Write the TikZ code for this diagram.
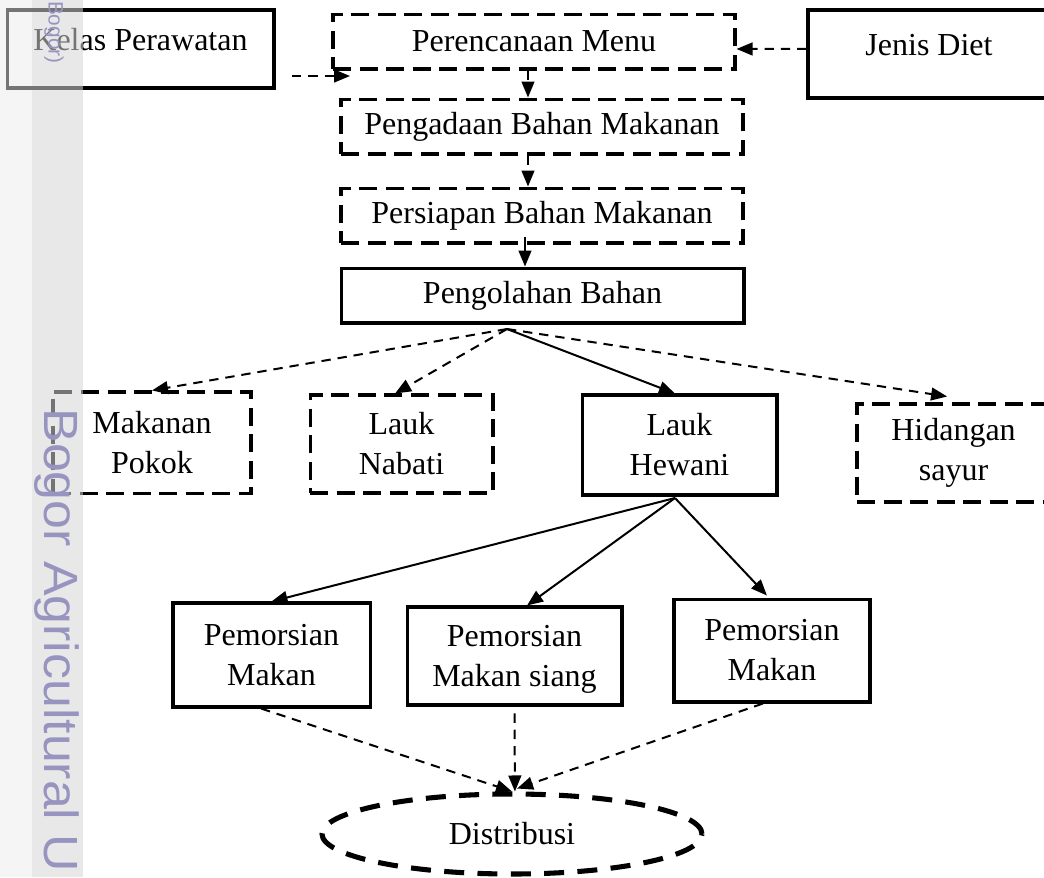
\documentclass[tikz,border=0pt]{standalone}
\usepackage{fontspec}
\setmainfont{Liberation Serif}
\newfontfamily\wmfont{Liberation Sans}
\usetikzlibrary{arrows.meta,shapes.geometric,calc}
\definecolor{bandA}{RGB}{235,235,235}
\definecolor{bandB}{RGB}{213,213,213}
\definecolor{wmcol}{RGB}{152,148,192}
\begin{document}
\begin{tikzpicture}[x=0.375pt,y=-0.375pt,
  txt/.style={font=\fontsize{12}{15}\selectfont, align=center},
  sbox/.style={txt, draw, line width=1.15pt, inner sep=0pt},
  dbox/.style={txt, draw, line width=1.15pt, dash pattern=on 6.75pt off 3.2pt, inner sep=0pt},
  dell/.style={txt, draw, ellipse, line width=1.9pt, dash pattern=on 7.5pt off 5pt, inner sep=0pt},
  darrow/.style={line width=0.75pt, dash pattern=on 3.5pt off 2.6pt, -{Triangle[length=6pt,width=4.8pt]}},
  sarrow/.style={line width=0.75pt, -{Triangle[length=6pt,width=4.8pt]}},
  wm/.style={text=wmcol, inner sep=0pt, rotate=-90}
]
\useasboundingbox (0,0) rectangle (1044,877);

% boxes
\node[sbox, minimum width=100.1pt, minimum height=29.25pt, text depth=7.1pt] (kelas) at (140.5,49) {Kelas Perawatan};
\node[dbox, minimum width=150.75pt, minimum height=20.6pt] (plan) at (534,41.5) {Perencanaan Menu};
\node[sbox, minimum width=90.75pt, minimum height=33pt, text depth=6.75pt] (jenis) at (929,54) {Jenis Diet};
\node[dbox, minimum width=150.75pt, minimum height=20.6pt] (adaan) at (542,126.5) {Pengadaan Bahan Makanan};
\node[dbox, minimum width=150.75pt, minimum height=20.6pt] (siap) at (542,215.5) {Persiapan Bahan Makanan};
\node[sbox, minimum width=151.1pt, minimum height=20.6pt] (olah) at (542.5,295.5) {Pengolahan Bahan};

\node[dbox, minimum width=74.25pt, minimum height=37.9pt] (pokok) at (152,442.5) {Makanan\\Pokok};
\node[dbox, minimum width=68.6pt, minimum height=36.75pt] (nabati) at (401.5,444) {Lauk\\Nabati};
\node[sbox, minimum width=73.1pt, minimum height=37.5pt] (hewani) at (679.5,445) {Lauk\\Hewani};
\node[dbox, minimum width=72.4pt, minimum height=36.75pt] (sayur) at (953.5,453) {Hidangan\\sayur};

\node[sbox, minimum width=73.9pt, minimum height=39pt] (pem1) at (271.5,655) {Pemorsian\\Makan};
\node[sbox, minimum width=80.6pt, minimum height=36.75pt, text depth=0pt] (pem2) at (514.5,656) {Pemorsian\\Makan siang};
\node[sbox, minimum width=73.5pt, minimum height=38.6pt] (pem3) at (772,650.5) {Pemorsian\\Makan};

\node[dell, minimum width=142.5pt, minimum height=30pt] (dist) at (512,834) {Distribusi};

% helper coordinates
\coordinate (kA) at (292,76);
\coordinate (kB) at (350,76);
\coordinate (c1) at (528,0);
\coordinate (c2) at (525,0);
\coordinate (fan) at (507,329);
\coordinate (fan2) at (675,498);

% connectors
\draw[darrow] (kA) -- (kB);
\draw[darrow] ([yshift=1.9pt]jenis.west) -- ([yshift=-2.8pt]plan.east);
\draw[darrow] (c1 |- plan.south) -- (c1 |- adaan.north);
\draw[darrow] (c1 |- adaan.south) -- (c1 |- siap.north);
\draw[sarrow] ([yshift=3pt]c2 |- siap.south) -- (c2 |- olah.north);

\draw[darrow] (fan) -- (pokok.north);
\draw[darrow] (fan) -- ([xshift=-2.4pt]nabati.north);
\draw[sarrow] (fan) -- ([xshift=-1.7pt]hewani.north);
\draw[darrow] (fan) -- ([xshift=-2.4pt,yshift=2.25pt]sayur.north);

\draw[sarrow] (fan2) -- (pem1.north);
\draw[sarrow] (fan2) -- ([xshift=4.7pt]pem2.north);
\draw[sarrow] (fan2) -- ([xshift=-1.9pt,yshift=0.75pt]pem3.north);

\draw[darrow] ([xshift=-3.9pt]pem1.south) -- (dist.north);
\draw[darrow] ([yshift=-2.6pt]pem2.south) -- ([xshift=1.1pt]dist.north);
\draw[darrow] ([xshift=-3.4pt]pem3.south) -- ([xshift=1.9pt,yshift=1.1pt]dist.north);

% scan watermark
\fill[bandA, opacity=0.5] (0,0) rectangle (32,877);
\fill[bandB, opacity=0.55] (32,0) rectangle (83,877);
\node[wm, font=\wmfont\fontsize{18}{18}\selectfont, anchor=west] (wmbig) at (57,408) {\scalebox{1.08}[1]{Bogor Agricultural U}};
\node[wm, font=\wmfont\fontsize{7.8}{9}\selectfont, anchor=east] (wmsmall) at (54,64) {Bogor)};
\end{tikzpicture}
\end{document}
